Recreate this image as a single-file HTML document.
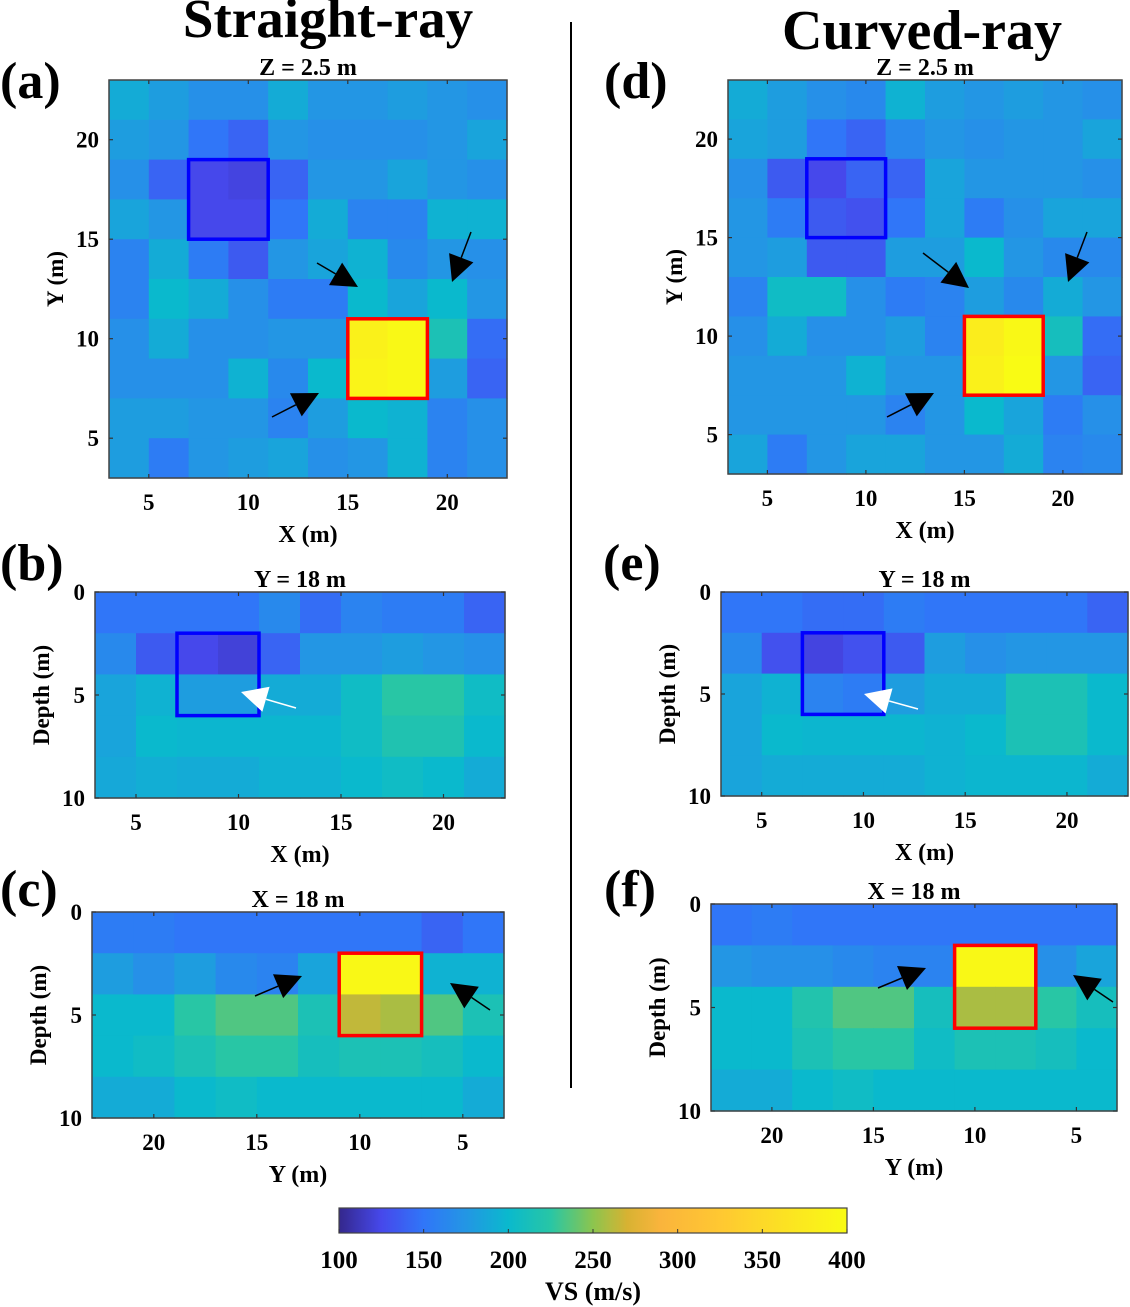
<!DOCTYPE html>
<html><head><meta charset="utf-8"><style>
html,body{margin:0;padding:0;background:#fff;}
svg{display:block;font-family:"Liberation Serif",serif;font-weight:bold;}
</style></head><body>
<svg id="fig" width="1130" height="1307" viewBox="0 0 1130 1307" xmlns="http://www.w3.org/2000/svg">
<text x="328" y="37" font-size="55" text-anchor="middle">Straight-ray</text>
<text x="922" y="49" font-size="56" text-anchor="middle">Curved-ray</text>
<line x1="571" y1="22" x2="571" y2="1088" stroke="#000" stroke-width="2"/>
</svg>
<script>
// ---- data ----
const valsA = [
[190,180,170,170,190,175,175,180,175,170],
[180,175,150,140,175,170,170,170,175,185],
[170,140,125,122,140,175,175,185,175,170],
[185,175,125,125,150,190,160,160,195,195],
[160,190,155,135,175,185,195,165,175,170],
[160,200,190,170,155,155,200,185,200,175],
[170,190,170,170,175,175,385,395,215,145],
[170,170,170,195,165,200,390,395,180,140],
[180,180,175,175,160,180,200,195,160,170],
[180,155,175,180,185,170,175,195,160,170]];
const valsD = [
[190,180,170,165,195,180,175,180,175,170],
[185,180,150,140,165,175,170,175,175,185],
[170,135,125,140,140,185,175,175,175,170],
[175,155,135,130,150,185,155,170,185,185],
[175,180,135,135,180,180,200,175,165,165],
[160,205,205,170,155,160,180,165,190,175],
[170,190,170,170,180,160,380,395,210,145],
[175,175,175,195,175,175,385,400,175,140],
[175,175,175,175,160,175,200,185,155,170],
[185,155,175,185,185,175,175,190,160,165]];
const valsB = [
[150,150,150,150,165,145,160,155,155,140],
[165,135,125,120,140,175,175,180,175,170],
[185,195,180,180,190,190,205,225,225,205],
[185,200,198,198,198,198,205,218,218,200],
[188,192,190,190,195,195,200,205,200,190]];
const valsC = [
[155,155,150,150,150,150,150,150,140,150],
[180,170,180,165,160,185,395,395,195,195],
[200,200,225,235,235,215,264,258,235,215],
[200,205,215,225,225,210,215,215,210,200],
[190,190,200,205,200,200,200,200,200,190]];
const valsE = [
[150,150,145,145,155,150,150,150,150,140],
[165,130,122,130,135,180,170,175,175,175],
[185,195,160,155,180,190,190,215,215,200],
[185,200,198,198,198,195,200,215,215,200],
[185,190,190,190,190,195,198,198,198,190]];
const valsF = [
[150,155,150,150,150,150,150,150,150,150],
[175,170,170,165,160,160,395,395,170,185],
[200,200,220,235,235,210,258,258,225,210],
[200,200,215,225,225,205,215,215,210,200],
[190,190,200,205,200,200,200,200,200,200]];
const cbTicks = [100,150,200,250,300,350,400];
const horizTicks = [5,10,15,20];
const planTicksY = [5,10,15,20];
const depthTicks = [0,5,10];

// colormap stops (value -> rgb)
const cmap = [[100,[52,40,140]],[125,[70,72,235]],[150,[48,118,248]],[175,[35,150,228]],[200,[10,185,205]],[225,[40,198,165]],[250,[140,197,78]],[270,[215,178,50]],[290,[250,180,60]],[325,[255,200,50]],[400,[249,251,20]]];
function col(v){
  if(v<=cmap[0][0]) return rgb(cmap[0][1]);
  for(let i=1;i<cmap.length;i++){
    if(v<=cmap[i][0]){const a=cmap[i-1],b=cmap[i];const t=(v-a[0])/(b[0]-a[0]);
      return rgb(a[1].map((c,k)=>Math.round(c+(b[1][k]-c)*t)));}
  }
  return rgb(cmap[cmap.length-1][1]);
}
function rgb(a){return `rgb(${a[0]},${a[1]},${a[2]})`;}

const svg=document.getElementById('fig');
const NS='http://www.w3.org/2000/svg';
function mk(tag,attrs,parent){const e=document.createElementNS(NS,tag);for(const k in attrs)e.setAttribute(k,attrs[k]);(parent||svg).appendChild(e);return e;}
function txt(s,attrs,parent){const e=mk('text',attrs,parent);e.textContent=s;return e;}

// panel layout
const panels=[
 {id:'a',vals:valsA,x0:109,x1:507,y0:80,y1:478,xd:[3,23],yd:[23,3],xt:horizTicks,yt:planTicksY,title:'Z =  2.5 m',xl:'X (m)',yl:'Y (m)',lab:[0,98],
  boxes:[['#0000ff',7,11,15,19],['#ff0000',15,19,7,11]]},
 {id:'d',vals:valsD,x0:728,x1:1122,y0:80,y1:474,xd:[3,23],yd:[23,3],xt:horizTicks,yt:planTicksY,title:'Z = 2.5 m',xl:'X (m)',yl:'Y (m)',lab:[604,98],
  boxes:[['#0000ff',7,11,15,19],['#ff0000',15,19,7,11]]},
 {id:'b',vals:valsB,x0:95,x1:505,y0:592,y1:798,xd:[3,23],yd:[0,10],xt:horizTicks,yt:depthTicks,title:'Y = 18 m',xl:'X (m)',yl:'Depth (m)',lab:[0,580],
  boxes:[['#0000ff',7,11,2,6]]},
 {id:'e',vals:valsE,x0:721,x1:1128,y0:592,y1:796,xd:[3,23],yd:[0,10],xt:horizTicks,yt:depthTicks,title:'Y = 18 m',xl:'X (m)',yl:'Depth (m)',lab:[603,580],
  boxes:[['#0000ff',7,11,2,6]]},
 {id:'c',vals:valsC,x0:92,x1:504,y0:912,y1:1118,xd:[23,3],yd:[0,10],xt:horizTicks,yt:depthTicks,title:'X = 18 m',xl:'Y (m)',yl:'Depth (m)',lab:[0,906],
  boxes:[['#ff0000',11,7,2,6]]},
 {id:'f',vals:valsF,x0:711,x1:1117,y0:904,y1:1111,xd:[23,3],yd:[0,10],xt:horizTicks,yt:depthTicks,title:'X = 18 m',xl:'Y (m)',yl:'Depth (m)',lab:[604,906],
  boxes:[['#ff0000',11,7,2,6]]},
];
const arrows=[
 ['#000',317,263,358,287],['#000',471,232,452,282],['#000',272,417,319,393],
 ['#000',923,253,969,288],['#000',1087,232,1068,282],['#000',887,417,934,393],
 ['#fff',296,708,241,692],['#fff',918,709,864,694],
 ['#000',255,996,302,976],['#000',490,1010,450,983],
 ['#000',878,988,926,968],['#000',1113,1002,1073,975]];

panels.forEach(p=>{
  const g=mk('g',{});
  
  
  const sx=v=>p.x0+(v-p.xd[0])/(p.xd[1]-p.xd[0])*(p.x1-p.x0);
  const sy=v=>p.y0+(v-p.yd[0])/(p.yd[1]-p.yd[0])*(p.y1-p.y0);
  const rows=p.vals.length, cols=p.vals[0].length;
  const cw=(p.x1-p.x0)/cols, ch=(p.y1-p.y0)/rows;
  p.vals.forEach((row,r)=>row.forEach((v,c)=>{
    const rc=mk('rect',{x:p.x0+c*cw,y:p.y0+r*ch,width:cw+0.6,height:ch+0.6,fill:col(v)},g);
    
    
  }));
  p.boxes.forEach((b,i)=>{
    const xa=sx(b[1]),xb=sx(b[2]),ya=sy(b[3]),yb=sy(b[4]);
    const bx=mk('rect',{x:Math.min(xa,xb),y:Math.min(ya,yb),width:Math.abs(xb-xa),height:Math.abs(yb-ya),fill:'none',stroke:b[0],'stroke-width':3.5},g);
    
    
  });
  const fr=mk('rect',{x:p.x0,y:p.y0,width:p.x1-p.x0,height:p.y1-p.y0,fill:'none',stroke:'#444','stroke-width':1.5},g);
  
  
  p.xt.forEach(t=>{
    const x=sx(t);
    mk('line',{x1:x,y1:p.y1,x2:x,y2:p.y1-4,stroke:'#333','stroke-width':1.2},g);
    mk('line',{x1:x,y1:p.y0,x2:x,y2:p.y0+4,stroke:'#333','stroke-width':1.2},g);
    const tl=txt(String(t),{x:x,y:p.y1+32,'font-size':23,'text-anchor':'middle'},g);
    
    
  });
  p.yt.forEach(t=>{
    const y=sy(t);
    mk('line',{x1:p.x0,y1:y,x2:p.x0+4,y2:y,stroke:'#333','stroke-width':1.2},g);
    mk('line',{x1:p.x1,y1:y,x2:p.x1-4,y2:y,stroke:'#333','stroke-width':1.2},g);
    const tl=txt(String(t),{x:p.x0-10,y:y+8,'font-size':23,'text-anchor':'end'},g);
    
    
  });
  const cx=(p.x0+p.x1)/2;
  const tt=txt(p.title,{x:cx,y:p.y0-5,'font-size':24,'text-anchor':'middle'},g);
  
  
  const xl=txt(p.xl,{x:cx,y:p.y1+64,'font-size':24,'text-anchor':'middle'},g);
  
  
  const ly=(p.y0+p.y1)/2, lx=p.x0-46;
  const yl=txt(p.yl,{x:lx,y:ly,'font-size':23,'text-anchor':'middle',transform:`rotate(-90 ${lx} ${ly})`},g);
  
  
  const lb=txt('('+p.id+')',{x:p.lab[0],y:p.lab[1],'font-size':52},g);
  
  
});

arrows.forEach(a=>{
  const [c,x1,y1,x2,y2]=a;
  const dx=x2-x1,dy=y2-y1,L=Math.hypot(dx,dy),ux=dx/L,uy=dy/L;
  const hl=26,hw=13;
  const bx=x2-ux*hl,by=y2-uy*hl;
  const g=mk('g',{});
  
  
  mk('line',{x1:x1,y1:y1,x2:bx,y2:by,stroke:c,'stroke-width':1.5},g);
  mk('polygon',{points:`${x2},${y2} ${bx-uy*hw},${by+ux*hw} ${bx+uy*hw},${by-ux*hw}`,fill:c},g);
});

// colorbar
const cb={x0:339,x1:847,y0:1208,y1:1233};
const cbs=v=>cb.x0+(v-100)/300*(cb.x1-cb.x0);
const defs=mk('defs',{});
const grad=mk('linearGradient',{id:'cbg',x1:0,y1:0,x2:1,y2:0},defs);
for(let v=100;v<=400;v+=5){mk('stop',{offset:((v-100)/300).toFixed(3),'stop-color':col(v)},grad);}
const cbr=mk('rect',{x:cb.x0,y:cb.y0,width:cb.x1-cb.x0,height:cb.y1-cb.y0,fill:'url(#cbg)',stroke:'#444','stroke-width':1.2});


cbTicks.forEach(t=>{
  const x=cbs(t);
  mk('line',{x1:x,y1:cb.y1,x2:x,y2:cb.y1-4,stroke:'#333','stroke-width':1});
  const tl=txt(String(t),{x:x,y:1268,'font-size':25,'text-anchor':'middle'});
  
  
});
const ct=txt('VS (m/s)',{x:593,y:1300,'font-size':26,'text-anchor':'middle'});


</script>
</body></html>
